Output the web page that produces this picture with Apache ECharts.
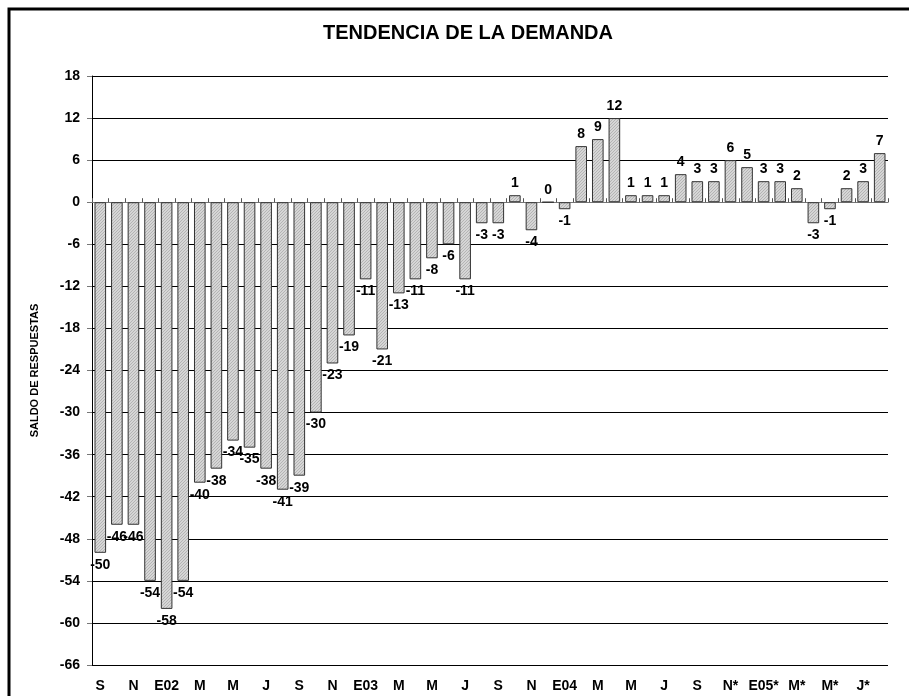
<!DOCTYPE html>
<html>
<head>
<meta charset="utf-8">
<style>
  html, body { margin: 0; padding: 0; background: #fff; }
  #chart { width: 909px; height: 696px; }
</style>
<script src="https://cdn.jsdelivr.net/npm/echarts@6/dist/echarts.min.js"></script>
</head>
<body>
<div id="chart"></div>
<script>
// etiquetas visibles (una cada dos meses)
const tickLabels = ['S', 'N', 'E02', 'M', 'M', 'J', 'S', 'N', 'E03', 'M', 'M', 'J',
  'S', 'N', 'E04', 'M', 'M', 'J', 'S', 'N*', 'E05*', 'M*', 'M*', 'J*']

// saldo mensual
const saldo = [-50, -46, -46, -54, -58, -54, -40, -38, -34, -35, -38, -41,
  -39, -30, -23, -19, -11, -21, -13, -11, -8, -6, -11, -3,
  -3, 1, -4, 0, -1, 8, 9, 12, 1, 1, 1, 4,
  3, 3, 6, 5, 3, 3, 2, -3, -1, 2, 3, 7]

const yTicks = [-66, 18, 6]  // min, max, intervalo

const categories = saldo.map((v, i) => (i % 2 === 0 ? tickLabels[i / 2] : ''))

// trama rayada fina de las barras
const makeHatch = () => {
  const c = document.createElement('canvas')
  c.width = 3
  c.height = 3
  const ctx = c.getContext('2d')
  ctx.fillStyle = '#d6d6d6'
  ctx.fillRect(0, 0, 3, 3)
  ctx.fillStyle = '#b4b4b4'
  for (let i = 0; i < 3; i++) ctx.fillRect(i, 2 - i, 1, 1)
  return c
}
const hatch = { image: makeHatch(), repeat: 'repeat' }

const chart = echarts.init(document.getElementById('chart'))
const font = 'Liberation Sans, Arial, sans-serif'

chart.setOption({
  animation: false,
  title: {
    text: 'TENDENCIA DE LA DEMANDA',
    left: 318,
    top: 18,
    textStyle: { fontFamily: font, fontWeight: 'bold', fontSize: 20, color: '#000' }
  },
  grid: { left: 92, right: 21, top: 76, bottom: 31 },
  graphic: [{
    type: 'rect',
    shape: { x: 9, y: 9, width: 930, height: 720 },
    style: { fill: 'none', stroke: '#000', lineWidth: 3 },
    silent: true
  }],
  xAxis: [{
    // etiquetas abajo
    type: 'category',
    data: categories,
    position: 'bottom',
    axisLine: { show: false, onZero: false },
    axisTick: { show: false },
    splitLine: { show: false },
    axisLabel: {
      interval: 0,
      margin: 14,
      fontFamily: font,
      fontWeight: 'bold',
      fontSize: 14,
      color: '#000'
    }
  }, {
    // línea del cero con marcas
    type: 'category',
    data: categories,
    position: 'bottom',
    axisLine: { onZero: true, lineStyle: { color: '#777', width: 1 } },
    axisTick: { show: true, inside: true, interval: 0, length: 4, lineStyle: { color: '#555' } },
    splitLine: { show: false },
    axisLabel: { show: false }
  }],
  yAxis: {
    type: 'value',
    min: yTicks[0],
    max: yTicks[1],
    interval: yTicks[2],
    name: 'SALDO DE RESPUESTAS',
    nameLocation: 'middle',
    nameGap: 52,
    nameTextStyle: { fontFamily: font, fontWeight: 'bold', fontSize: 11, color: '#000' },
    axisLine: { show: true, onZero: false, lineStyle: { color: '#000' } },
    axisTick: { show: true, length: 5, lineStyle: { color: '#777' } },
    axisLabel: {
      margin: 12,
      fontFamily: font,
      fontWeight: 'bold',
      fontSize: 14,
      color: '#000'
    },
    splitLine: { show: true, lineStyle: { color: '#000', width: 1 } }
  },
  series: [{
    type: 'bar',
    xAxisIndex: 0,
    barCategoryGap: '30%',
    data: saldo.map(v => ({ value: v, label: { position: v < 0 ? 'bottom' : 'top' } })),
    itemStyle: { color: hatch, borderColor: '#333', borderWidth: 1 },
    label: {
      show: true,
      distance: 5,
      fontFamily: font,
      fontWeight: 'bold',
      fontSize: 14,
      color: '#000'
    }
  }]
})
</script>
</body>
</html>
